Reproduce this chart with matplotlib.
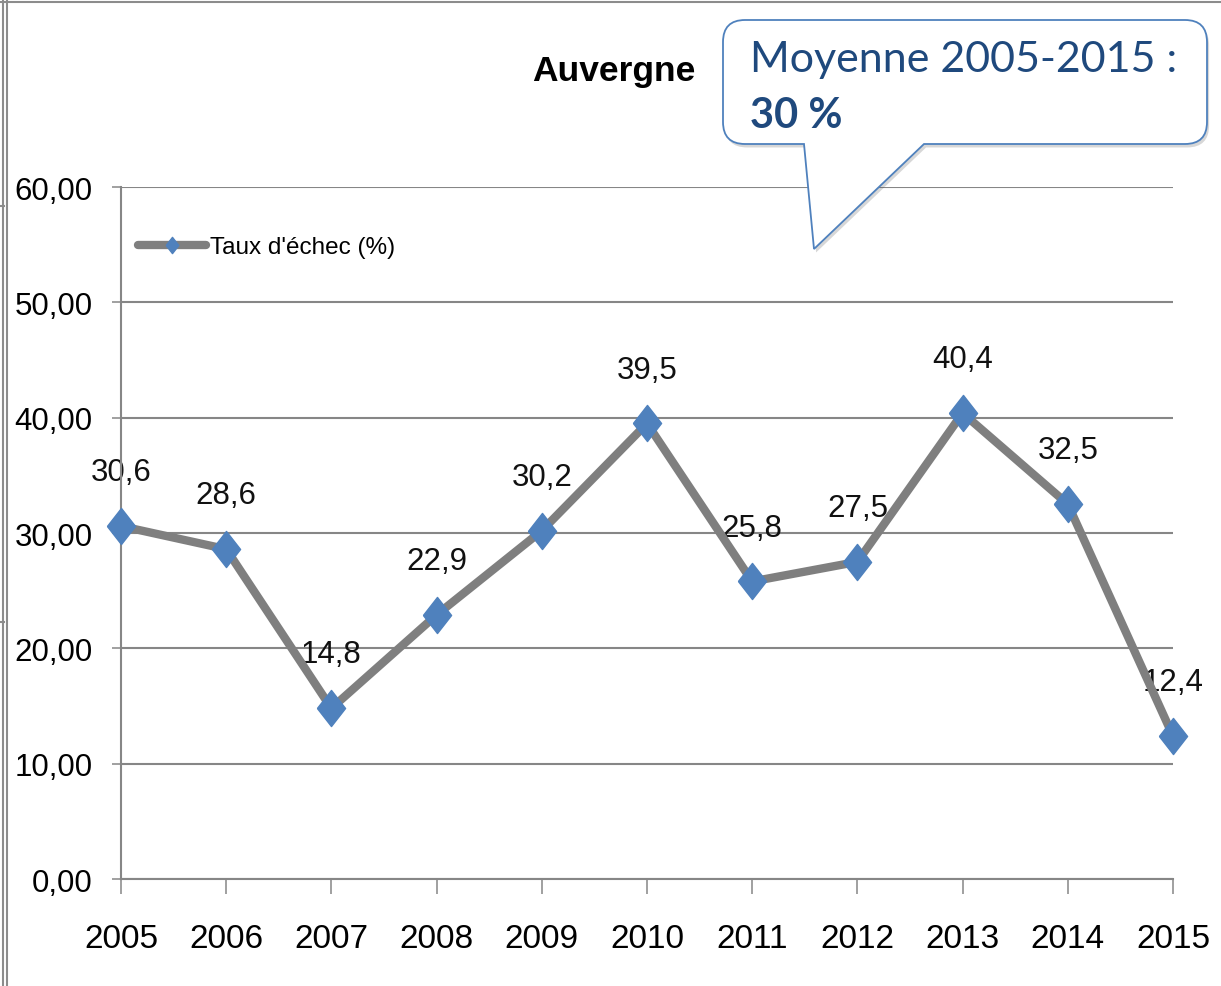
import matplotlib.pyplot as plt
import numpy as np
from matplotlib.path import Path
from matplotlib.patches import PathPatch
from matplotlib.lines import Line2D
from matplotlib.ticker import FuncFormatter
import matplotlib.patheffects as pe

# data
years = [2005, 2006, 2007, 2008, 2009, 2010, 2011, 2012, 2013, 2014, 2015]
taux = [30.6, 28.6, 14.8, 22.9, 30.2, 39.5, 25.8, 27.5, 40.4, 32.5, 12.4]
y_ticks = [0, 10, 20, 30, 40, 50, 60]
serie_label = "Taux d'échec (%)"
titre = "Auvergne"
bulle_l1 = "Moyenne 2005-2015 :"
bulle_l2 = "30 %"

W, H = 1221, 987
narrow = ['Liberation Sans', 'DejaVu Sans']
plt.rcParams['font.family'] = narrow

grid_col = '#868686'
line_col = '#7f7f7f'
mark_col = '#4f81bd'


def fx(x, y):
    # pixel (from top-left) -> figure fraction
    return (x / W, 1 - y / H)


fig = plt.figure(figsize=(W / 100, H / 100), dpi=100)
ax = fig.add_axes([121 / W, 1 - 880 / H, (1173 - 121) / W, (880 - 188) / H])

# tall diamond marker
diamond = [(-0.78, 0), (0, 1), (0.78, 0), (0, -1), (-0.78, 0)]

ax.plot(years, taux, color=line_col, lw=6, marker=diamond, ms=26,
        mfc=mark_col, mec=mark_col, clip_on=False, zorder=3,
        solid_capstyle='round', label=serie_label)

for x, v in zip(years, taux):
    ax.annotate(f"{v:.1f}".replace('.', ','), (x, v), xytext=(0, 33),
                textcoords='offset points', ha='center', va='baseline',
                fontsize=22.5, color='#111111', zorder=2)

ax.set_xlim(2005, 2015)
ax.set_ylim(0, 60)
ax.set_xticks(years)
ax.set_yticks(y_ticks)
ax.yaxis.set_major_formatter(FuncFormatter(lambda v, p: f"{v:.2f}".replace('.', ',')))
ax.yaxis.grid(True, color=grid_col, lw=1.5)
ax.set_axisbelow(True)
for s in ['top', 'right']:
    ax.spines[s].set_visible(False)
for s in ['left', 'bottom']:
    ax.spines[s].set_color(grid_col)
    ax.spines[s].set_linewidth(1.5)
ax.tick_params(axis='y', direction='out', length=6.5, width=1.1, color=grid_col,
               labelsize=22.5, pad=14)
ax.tick_params(axis='x', direction='out', length=11, width=1.1, color=grid_col,
               labelsize=24, pad=21)

leg = ax.legend(loc='center left', bbox_to_anchor=fx(138, 248),
                bbox_transform=fig.transFigure, frameon=False, fontsize=17.5,
                handlelength=2.8, handletextpad=0.15, borderpad=0,
                borderaxespad=0, markerscale=0.45)

fig.text(*fx(614, 72), titre, ha='center', va='center', fontsize=25.5,
         weight='bold', family=narrow)

# bulle (callout)
x0, x1, y0, y1, r = 723, 1207, 21, 145, 22
b1, b2, tip = 804, 924, (814, 250)
pts = [(x0 + r, y0), (x1 - r, y0), (x1, y0), (x1, y0 + r), (x1, y1 - r),
       (x1, y1), (x1 - r, y1), (b2, y1), tip, (b1, y1), (x0 + r, y1),
       (x0, y1), (x0, y1 - r), (x0, y0 + r), (x0, y0), (x0 + r, y0), (x0 + r, y0)]
codes = [Path.MOVETO, Path.LINETO, Path.CURVE3, Path.CURVE3, Path.LINETO,
         Path.CURVE3, Path.CURVE3, Path.LINETO, Path.LINETO, Path.LINETO,
         Path.LINETO, Path.CURVE3, Path.CURVE3, Path.LINETO, Path.CURVE3,
         Path.CURVE3, Path.CLOSEPOLY]
bulle = PathPatch(Path([fx(*p) for p in pts], codes), transform=fig.transFigure,
                  facecolor='white', edgecolor=mark_col, lw=1.3, zorder=5)
bulle.set_path_effects([pe.SimplePatchShadow(offset=(1.5, -2.5), alpha=0.22),
                        pe.Normal()])
fig.patches.append(bulle)
fig.text(*fx(750, 72), bulle_l1, ha='left', va='baseline', fontsize=31,
         color='#1f497d', family=['Lato', 'DejaVu Sans'], zorder=6)
fig.text(*fx(750, 128), bulle_l2, ha='left', va='baseline', fontsize=30,
         color='#1f497d', weight='bold', family=['Lato', 'DejaVu Sans'], zorder=6)

# bordure de la capture
for xa, ya in [((0, W), (3, 3)), ((3, 3), (0, H)), ((7, 7), (0, H)),
               ((0, 4), (207, 207)), ((0, 4), (623, 623))]:
    fig.lines.append(Line2D([xa[0] / W, xa[1] / W], [1 - ya[0] / H, 1 - ya[1] / H],
                            transform=fig.transFigure, color='#8c8c8c', lw=1.5))

fig.savefig('out.png', dpi=100)
